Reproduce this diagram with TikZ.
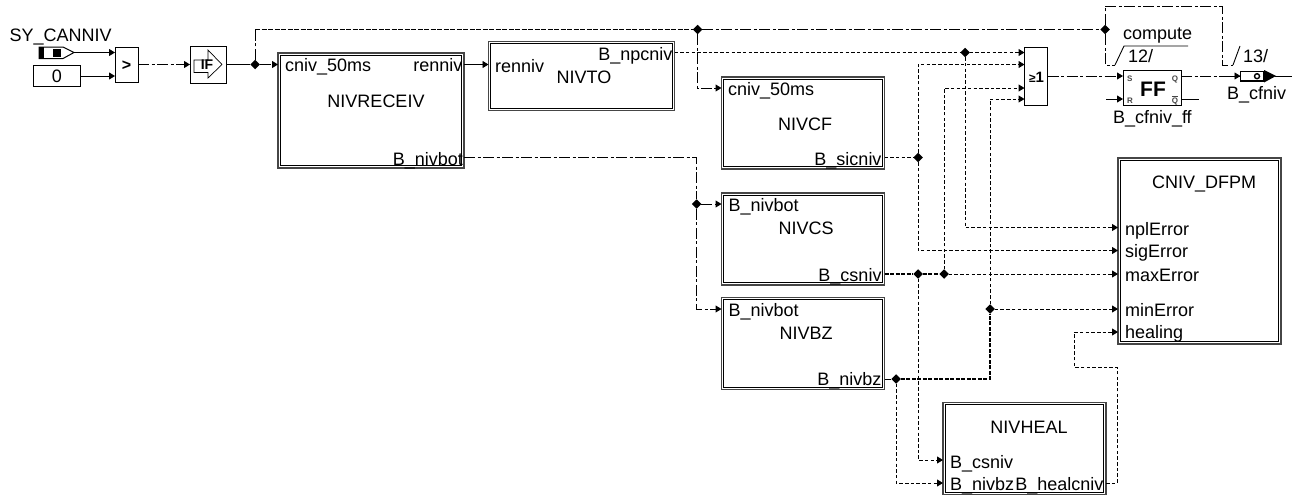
\documentclass[tikz,border=0pt]{standalone}
\usepackage{fontspec}
\setmainfont{Liberation Sans}
\usetikzlibrary{arrows.meta,shapes.geometric,calc}
\definecolor{blkgray}{RGB}{70,70,70}
\tikzset{
  x=1pt,y=-1pt,
  every node/.style={inner sep=0pt,outer sep=0pt,font=\fontsize{18}{20}\selectfont},
  blko/.style={draw=blkgray,line width=1.2pt,anchor=north west,rectangle},
  blki/.style={draw=black,line width=1.3pt,anchor=center,rectangle},
  box/.style={draw=black,line width=.9pt,anchor=north west,rectangle,fill=white},
  wire/.style={line width=.9pt,black},
  arr/.style={-{Triangle[length=6pt,width=7pt]}},
  ddot/.style={wire,line width=1pt,dash pattern=on 11pt off 2.5pt on 3pt off 2.5pt},
  dsh/.style={wire,line width=1pt,dash pattern=on 3.5pt off 2.2pt},
  dshb/.style={wire,line width=1.4pt,dash pattern=on 4pt off 1.5pt},
  jn/.style={diamond,fill=black,minimum width=9.5pt,minimum height=9.5pt},
  lw/.style={anchor=base west},
  le/.style={anchor=base east},
  lc/.style={anchor=base},
  tiny/.style={font=\fontsize{8}{9}\selectfont\bfseries,text=blkgray},
}
\newcommand{\mkblock}[5]{%
  \node[blko,minimum width=#4pt,minimum height=#5pt] (#1) at (#2,#3) {};
  \node[blki,minimum width=\dimexpr #4pt-4.5pt\relax,minimum height=\dimexpr #5pt-4.5pt\relax] (#1-in) at (#1.center) {};
}
\begin{document}
\begin{tikzpicture}
\useasboundingbox (0,0) rectangle (1293,498);
% blocks
\mkblock{nivreceiv}{278}{53}{186}{115}
\mkblock{nivto}{488.5}{41.5}{186}{69}
\mkblock{nivcf}{721.5}{77}{163}{92}
\mkblock{nivcs}{721.5}{193}{163}{92}
\mkblock{nivbz}{721.5}{297.5}{163}{92}
\mkblock{nivheal}{943}{402.5}{163}{92}
\mkblock{dfpm}{1118}{158}{163}{186}
\node[box,minimum width=47pt,minimum height=21pt] (zero) at (33.5,65.5) {};
\node[box,minimum width=23pt,minimum height=35pt] (cmp) at (115,47) {};
\node[box,minimum width=36pt,minimum height=37pt] (ifb) at (190,46) {};
\node[box,minimum width=23pt,minimum height=58pt] (orb) at (1024.5,47) {};
\node[box,minimum width=58pt,minimum height=35pt] (ffb) at (1123,70.5) {};
% input symbol
\draw[line width=1pt,fill=white] (39,47) -- (63,47) -- (74,52.5) -- (63,58.5) -- (39,58.5) -- cycle;
\fill (39,47) rectangle (44,58.5);
\fill (53,49) rectangle (61,57);
% output symbol
\draw[line width=1.6pt,fill=white] (1240.5,71.5) rectangle (1264,81);
\fill (1264,70) -- (1276,76) -- (1264,82.5) -- cycle;
\draw[line width=1.4pt] (1257,76.2) circle (2.5pt);
% IF symbol
\draw[line width=.7pt,fill=white] (194,60) -- (208,60) -- (208,50) -- (222,64.5) -- (208,78) -- (208,72.5) -- (194,72.5) -- cycle;
\node[font=\fontsize{14}{15}\selectfont\bfseries] (iflabel) at (207,65) {IF};
% junctions
\node[jn] (j1) at (255,64.5) {};
\node[jn] (j2) at (697.5,29.5) {};
\node[jn] (j3) at (1105,29.5) {};
\node[jn] (j4) at (965,52.5) {};
\node[jn] (j5) at (696.5,204) {};
\node[jn] (j6) at (918,157.5) {};
\node[jn] (j7) at (918,274) {};
\node[jn] (j8) at (944,274) {};
\node[jn] (j9) at (990,309) {};
\node[jn] (j10) at (896,379) {};
% port coordinates
\coordinate (symout) at (74,52.5);
\coordinate (cmpa) at (115,52.5);
\coordinate (cmpb) at (115,76);
\coordinate (zeroout) at (80.5,76);
\coordinate (cmpout) at (138,64.5);
\coordinate (ifin) at (190,64.5);
\coordinate (ifout) at (226,64.5);
\coordinate (recin) at (278,64.5);
\coordinate (recren) at (464,64.5);
\coordinate (toin) at (488.5,64.5);
\coordinate (recbot) at (464,157.5);
\coordinate (tonpc) at (674.5,52.5);
\coordinate (cfin) at (721.5,88);
\coordinate (cfout) at (884.5,157.5);
\coordinate (csin) at (721.5,204);
\coordinate (csout) at (884.5,274);
\coordinate (bzin) at (721.5,309);
\coordinate (bzout) at (884.5,379);
\coordinate (orA) at (1024.5,52.5);
\coordinate (orB) at (1024.5,64.5);
\coordinate (orC) at (1024.5,88);
\coordinate (orD) at (1024.5,99);
\coordinate (orout) at (1047.5,76);
\coordinate (ffS) at (1123,76);
\coordinate (ffR) at (1123,99);
\coordinate (ffRsrc) at (1106,99);
\coordinate (ffQ) at (1181,76);
\coordinate (ffNQ) at (1181,99);
\coordinate (ffNQend) at (1199,99);
\coordinate (outin) at (1240.5,76);
\coordinate (outend) at (1292,76);
\coordinate (npl) at (1118,227.5);
\coordinate (sig) at (1118,250.5);
\coordinate (max) at (1118,274);
\coordinate (min) at (1118,309);
\coordinate (heal) at (1118,332);
\coordinate (hcs) at (943,460);
\coordinate (hbz) at (943,483);
\coordinate (hout) at (1106,483);
\coordinate (t12) at (1115,65);
\coordinate (t13) at (1233,65);
% connectors
\draw[wire,arr] (symout) -- (cmpa);
\draw[wire,arr] (zeroout) -- (cmpb);
\draw[ddot,arr] (cmpout) -- (ifin);
\draw[wire] (ifout) -- (j1);
\draw[ddot,arr] (j1) -- (recin);
\draw[ddot] (j1) -- (255,29.5);
\draw[dshb,dash pattern=on 5pt off 1.5pt] (255,29.5) -- (j2);
\draw[ddot] (j2) -- (j3);
\draw[ddot] (j3) -- (1105,6) -- (1222,6) -- (1222,65) -- (t13);
\draw[ddot] (j3) -- (1105,65) -- (t12);
\draw[wire] (t12) -- (1124,46) -- (1188,46);
\draw[wire] (t13) -- (1240,46);
\draw[ddot,arr] (j2) -- (697.5,88) -- (cfin);
\draw[wire,arr] (recren) -- (toin);
\draw[ddot] (recbot) -- (696.5,157.5) -- (j5);
\draw[ddot,arr] (j5) -- (csin);
\draw[ddot,arr] (j5) -- (696.5,309) -- (bzin);
\draw[dsh] (tonpc) -- (j4);
\draw[dsh,arr] (j4) -- (orA);
\draw[dsh,arr] (j4) -- (965,227.5) -- (npl);
\draw[dsh] (cfout) -- (j6);
\draw[dsh,arr] (j6) -- (918,64.5) -- (orB);
\draw[dsh,arr] (j6) -- (918,250.5) -- (sig);
\draw[dshb] (csout) -- (j7);
\draw[dshb] (j7) -- (j8);
\draw[dsh,arr] (j8) -- (max);
\draw[dsh,arr] (j8) -- (944,88) -- (orC);
\draw[dsh,arr] (j7) -- (918,460) -- (hcs);
\draw[wire] (bzout) -- (j10);
\draw[dshb] (j10) -- (990,379) -- (j9);
\draw[dsh,arr] (j9) -- (min);
\draw[dsh,arr] (j9) -- (990,99) -- (orD);
\draw[dsh,arr] (j10) -- (896,483) -- (hbz);
\draw[dsh,arr] (hout) -- (1117,483) -- (1117,367) -- (1074,367) -- (1074,332) -- (heal);
\draw[ddot,arr] (orout) -- (ffS);
\draw[wire,arr] (ffRsrc) -- (ffR);
\draw[ddot] (ffQ) -- (outin);
\draw[wire,arr] (1230,76) -- (outin);
\draw[wire] (ffNQ) -- (ffNQend);
\draw[wire] (1275,76) -- (outend);
% texts
\node[lw] (t1) at (9.5,41) {SY\_CANNIV};
\node[lc] (t2) at (57,82) {0};
\node[lc,font=\fontsize{16}{16}\selectfont\bfseries] (t3) at (126.5,70) {>};
\node[lw] at (285,71.5) {cniv\_50ms};
\node[le] at (462.5,71.5) {renniv};
\node[lc] at (376,107) {NIVRECEIV};
\node[le] at (463,165) {B\_nivbot};
\node[lw] at (495,72) {renniv};
\node[le] at (672.5,60) {B\_npcniv};
\node[lc] at (584,83) {NIVTO};
\node[lw] at (728,95) {cniv\_50ms};
\node[lc] at (805,130) {NIVCF};
\node[le] at (881.5,165) {B\_sicniv};
\node[lw] at (728.5,211) {B\_nivbot};
\node[lc] at (806,234) {NIVCS};
\node[le] at (881.5,281) {B\_csniv};
\node[lw] at (728.5,316) {B\_nivbot};
\node[lc] at (806,339) {NIVBZ};
\node[le] at (881.5,385) {B\_nivbz};
\node[lc] at (1204,188) {CNIV\_DFPM};
\node[lw] at (1125,235) {nplError};
\node[lw] at (1125,257) {sigError};
\node[lw] at (1125,281) {maxError};
\node[lw] at (1125,316) {minError};
\node[lw] at (1125,338) {healing};
\node[lc] at (1029,433) {NIVHEAL};
\node[lw] at (950,468) {B\_csniv};
\node[lw] at (950,490) {B\_nivbz};
\node[le] at (1103.5,490) {B\_healcniv};
\node[lw] at (1123,39) {compute};
\node[lw] at (1128,62) {12/};
\node[lw] at (1243,62) {13/};
\node[lw] at (1227,99) {B\_cfniv};
\node[lw] at (1113,123) {B\_cfniv\_ff};
\node[lc,font=\fontsize{21}{22}\selectfont\bfseries] at (1153,96) {FF};
\node[tiny,lw] at (1127,81) {S};
\node[tiny,lw] at (1127,103) {R};
\node[tiny,le] at (1178,81) {Q};
\node[tiny,le] at (1178,103) {$\overline{\mbox{Q}}$};
\node[lc,font=\fontsize{15}{16}\selectfont\bfseries] at (1036.5,82) {{\fontsize{12}{12}\selectfont ≥}1};
\end{tikzpicture}
\end{document}
